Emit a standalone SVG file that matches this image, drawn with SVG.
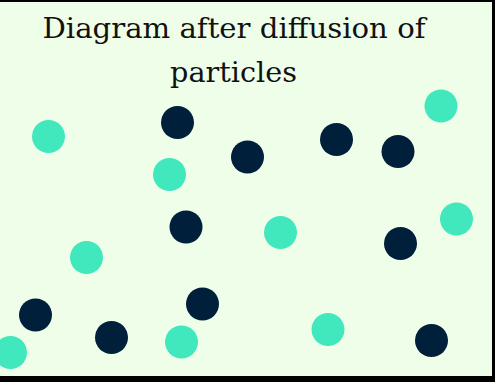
<svg xmlns="http://www.w3.org/2000/svg" width="495" height="382" viewBox="0 0 495 382">
<style>
.title{font-family:"DejaVu Serif","Liberation Serif",serif;font-size:28px;fill:#111;text-anchor:middle}
.a{fill:#41e8bd}
.b{fill:#001f3a}
</style>
<rect x="0" y="0" width="495" height="382" fill="#000"/>
<rect x="0" y="2" width="492" height="374" fill="#effee8"/>
<g id="title">
<text class="title" x="234" y="38" textLength="383" lengthAdjust="spacingAndGlyphs">Diagram after diffusion of</text>
<text class="title" x="233.5" y="82" textLength="127" lengthAdjust="spacingAndGlyphs">particles</text>
</g>
<g id="particles">
<circle class="a" cx="48.5" cy="136.5" r="16.5"/>
<circle class="b" cx="177.5" cy="122.5" r="16.5"/>
<circle class="a" cx="169.5" cy="174.5" r="16.5"/>
<circle class="b" cx="247.5" cy="157" r="16.5"/>
<circle class="b" cx="336.5" cy="139.5" r="16.5"/>
<circle class="b" cx="398" cy="151.5" r="16.5"/>
<circle class="a" cx="441" cy="106" r="16.5"/>
<circle class="b" cx="186" cy="227" r="16.5"/>
<circle class="a" cx="86.5" cy="257.5" r="16.5"/>
<circle class="a" cx="280.5" cy="232.5" r="16.5"/>
<circle class="b" cx="400.5" cy="243.5" r="16.5"/>
<circle class="a" cx="456.5" cy="219" r="16.5"/>
<circle class="b" cx="35.5" cy="315" r="16.5"/>
<circle class="b" cx="111.5" cy="337.5" r="16.5"/>
<circle class="b" cx="202.5" cy="304" r="16.5"/>
<circle class="a" cx="181.5" cy="342" r="16.5"/>
<circle class="a" cx="10.5" cy="352.5" r="16.5"/>
<circle class="a" cx="328" cy="329.5" r="16.5"/>
<circle class="b" cx="431.5" cy="340.5" r="16.5"/>
</g>
</svg>
